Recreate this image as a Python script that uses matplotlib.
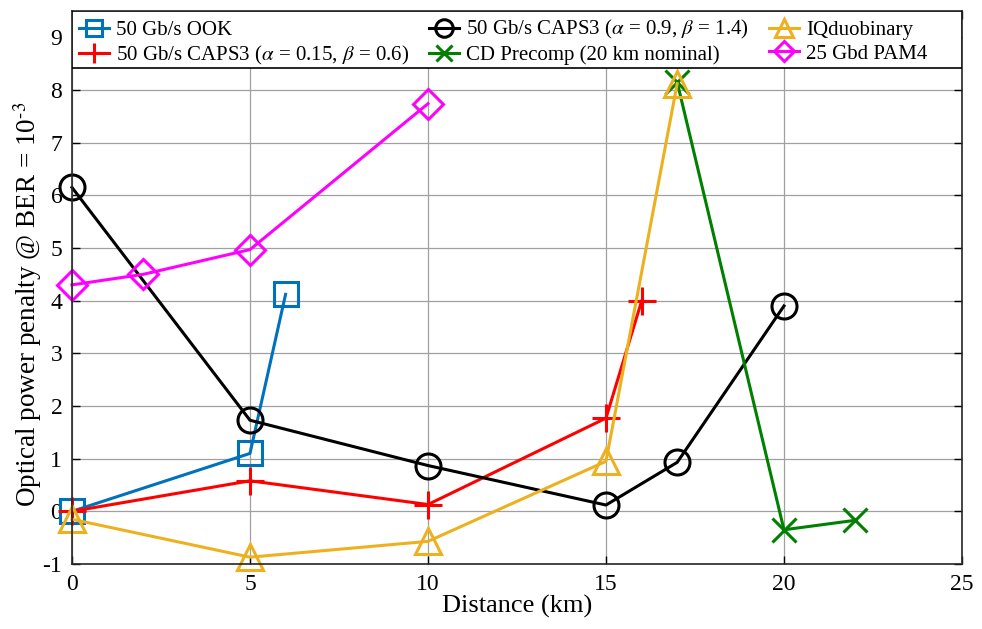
import matplotlib
matplotlib.use("Agg")
import matplotlib.pyplot as plt
from matplotlib.patches import Rectangle

plt.rcParams['font.family'] = ['Liberation Serif', 'DejaVu Serif']
plt.rcParams['mathtext.fontset'] = 'stix'
plt.rcParams['axes.unicode_minus'] = False

# data
ook_x = [0, 5, 6]
ook_y = [0.0, 1.1, 4.12]

caps015_x = [0, 5, 10, 15, 16]
caps015_y = [0.0, 0.58, 0.13, 1.77, 3.99]

caps09_x = [0, 5, 10, 15, 17, 20]
caps09_y = [6.15, 1.73, 0.87, 0.12, 0.93, 3.9]

cd_x = [17, 20, 22]
cd_y = [8.15, -0.35, -0.17]

iq_x = [0, 5, 10, 15, 17]
iq_y = [-0.15, -0.87, -0.57, 0.95, 8.12]

pam4_x = [0, 2, 5, 10]
pam4_y = [4.3, 4.5, 4.97, 7.74]

fig = plt.figure(figsize=(9.82, 6.29), dpi=100)
ax = fig.add_axes([0.0733, 0.1033, 0.9063, 0.8792])

lw = 2.2
ms = 17
mew = 2.2
kw = dict(lw=lw, mew=mew, clip_on=False)
ax.plot(ook_x, ook_y, '-s', color='#0072BD', ms=ms, mfc='none', label='50 Gb/s OOK', **kw)
ax.plot(caps015_x, caps015_y, '-+', color='#FF0000', ms=ms + 3,
        label=r'50 Gb/s CAPS3 ($\alpha$ = 0.15, $\beta$ = 0.6)', **kw)
ax.plot(caps09_x, caps09_y, '-o', color='black', ms=ms + 1, mfc='none',
        label=r'50 Gb/s CAPS3 ($\alpha$ = 0.9, $\beta$ = 1.4)', **kw)
ax.plot(cd_x, cd_y, '-x', color='#008000', ms=ms, label='CD Precomp (20 km nominal)', **kw)
ax.plot(iq_x, iq_y, '-^', color='#EDB120', ms=ms + 2, mfc='none', label='IQduobinary', **kw)
ax.plot(pam4_x, pam4_y, '-D', color='#FF00FF', ms=ms - 2, mfc='none', label='25 Gbd PAM4', **kw)

ax.set_xlim(0, 25)
ax.set_ylim(-1, 9.5)
ax.set_xticks([0, 5, 10, 15, 20, 25])
ax.set_yticks(range(-1, 10))
ax.grid(True, color='#a0a0a0', lw=0.9)
ax.set_axisbelow(True)
ax.tick_params(direction='in', top=True, right=True, labelsize=17, length=6, width=1, pad=7)
for s in ax.spines.values():
    s.set_linewidth(1.2)
    s.set_color('#262626')

ax.set_xlabel('Distance (km)', fontsize=19, labelpad=0)
ax.set_ylabel(r'Optical power penalty @ BER = 10$^{\text{-}3}$', fontsize=19.5)
ax.yaxis.set_label_coords(-0.032, 0.47)

# legend box spans the full width of the axes
box = Rectangle((0, 0.897), 1, 0.103, transform=ax.transAxes, facecolor='white',
                edgecolor='black', lw=1.2, zorder=4)
ax.add_patch(box)
leg = ax.legend(ncol=3, loc='upper left', bbox_to_anchor=(0, 1), borderaxespad=0,
                fontsize=15, frameon=False, handlelength=1.45, handletextpad=0.33,
                labelspacing=0.2, borderpad=0.35, columnspacing=0.95, markerscale=0.7)
leg.set_zorder(5)

fig.savefig('out.png', dpi=100)
